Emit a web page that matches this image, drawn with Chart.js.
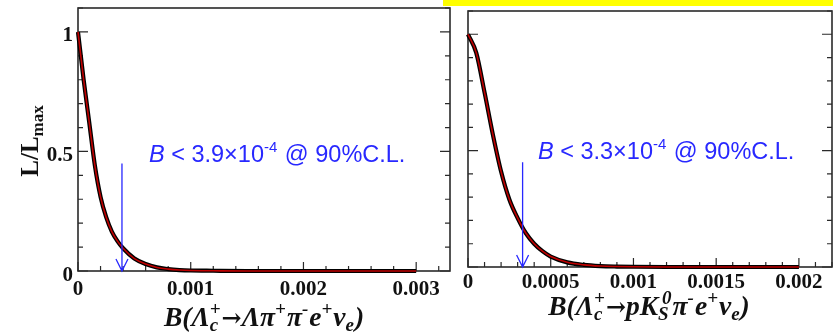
<!DOCTYPE html>
<html>
<head>
<meta charset="utf-8">
<script src="https://cdn.jsdelivr.net/npm/chart.js@4.4.1/dist/chart.umd.min.js"></script>
<style>
  html, body { margin: 0; padding: 0; background: #fff; }
  #wrap { position: relative; width: 833px; height: 333px; overflow: hidden; }
  canvas { position: absolute; top: 0; }
  #bar { position: absolute; left: 443px; top: 0; width: 390px; height: 6px; background: #ffff00; z-index: 5; }
</style>
</head>
<body>
<div id="wrap">
  <canvas id="left" width="460" height="333" style="left:0"></canvas>
  <canvas id="right" width="373" height="333" style="left:460px"></canvas>
  <div id="bar"></div>
</div>
<script>
// left panel: B(Lambda_c+ -> Lambda pi+ pi- e+ nu_e)
const leftX = [0, 0.00005, 0.0001, 0.00015, 0.0002, 0.00025, 0.0003, 0.00035, 0.0004, 0.0005, 0.0006, 0.0007, 0.0008, 0.0009, 0.001, 0.0012, 0.0015, 0.002, 0.0025, 0.003]
const leftY = [1.0, 0.8, 0.62, 0.44, 0.31, 0.225, 0.165, 0.125, 0.095, 0.052, 0.029, 0.015, 0.008, 0.004, 0.002, 0.001, 0, 0, 0, 0]
const leftXTicks = [0, 0.001, 0.002, 0.003]
const leftXLabels = ['0', '0.001', '0.002', '0.003']
const leftLimit = 0.00039

// right panel: B(Lambda_c+ -> p K0S pi- e+ nu_e)
const rightX = [0, 0.00005, 0.0001, 0.00015, 0.0002, 0.00025, 0.0003, 0.00035, 0.0004, 0.00045, 0.0005, 0.0006, 0.0007, 0.0008, 0.0009, 0.001, 0.0012, 0.0015, 0.002]
const rightY = [1.0, 0.92, 0.75, 0.57, 0.41, 0.29, 0.21, 0.145, 0.1, 0.068, 0.045, 0.02, 0.009, 0.004, 0.002, 0.001, 0, 0, 0]
const rightXTicks = [0, 0.0005, 0.001, 0.0015, 0.002]
const rightXLabels = ['0', '0.0005', '0.001', '0.0015', '0.002']
const rightLimit = 0.00033

const yTicks = [0, 0.5, 1]
const yLabels = ['0', '0.5', '1']

const serifB = 'bold 21px "Liberation Serif"'
const blue = '#2828ff'

function points(xs, ys) {
  return xs.map((x, i) => ({ x: x, y: ys[i] }))
}

// draws a list of text runs; stacked runs carry sup/sub
function drawRuns(ctx, runs, x, y, align) {
  const big = 'italic bold 27.5px "Liberation Serif"'
  const small = 'italic bold 19px "Liberation Serif"'
  const widths = runs.map((r) => {
    if (r.t !== undefined) {
      ctx.font = r.font || big
      return ctx.measureText(r.t).width
    }
    ctx.font = small
    return Math.max(ctx.measureText(r.sup || '').width + (r.supDx || 0), ctx.measureText(r.sub || '').width) + 1
  })
  const total = widths.reduce((a, b) => a + b, 0)
  let cx = align === 'center' ? x - total / 2 : x
  ctx.textAlign = 'left'
  ctx.textBaseline = 'alphabetic'
  runs.forEach((r, i) => {
    if (r.t !== undefined) {
      ctx.font = r.font || big
      ctx.fillText(r.t, cx, y)
    } else {
      ctx.font = small
      if (r.sup) ctx.fillText(r.sup, cx + (r.supDx || 0), y - 11)
      if (r.sub) ctx.fillText(r.sub, cx, y + 5)
    }
    cx += widths[i]
  })
}

function limitText(ctx, x, y, value) {
  ctx.fillStyle = blue
  ctx.textAlign = 'left'
  ctx.textBaseline = 'alphabetic'
  let cx = x
  ctx.font = 'italic 23.5px "Liberation Sans"'
  ctx.fillText('B', cx, y)
  cx += ctx.measureText('B').width
  ctx.font = '23.5px "Liberation Sans"'
  const a = ' < ' + value + '\u00d710'
  ctx.fillText(a, cx, y)
  cx += ctx.measureText(a).width
  ctx.font = '15px "Liberation Sans"'
  ctx.fillText('-4', cx, y - 10)
  cx += ctx.measureText('-4').width + 1
  ctx.font = '23.5px "Liberation Sans"'
  ctx.fillText(' @ 90%C.L.', cx, y)
}

function framePlugin(opt) {
  return {
    id: 'frame',
    beforeDatasetsDraw(chart) {
      const { ctx, chartArea: a, scales } = chart
      const xs = scales.x
      const ys = scales.y
      ctx.save()
      ctx.strokeStyle = '#2a2a2a'
      ctx.lineWidth = 1.6
      ctx.strokeRect(a.left, a.top, a.right - a.left, a.bottom - a.top)
      ctx.lineWidth = 1.2
      ctx.beginPath()
      for (let i = 0; i <= 11; i++) {
        const v = i / 10
        const py = ys.getPixelForValue(v)
        const len = i % 5 === 0 ? 10 : 5
        ctx.moveTo(a.left, py)
        ctx.lineTo(a.left + len, py)
        ctx.moveTo(a.right, py)
        ctx.lineTo(a.right - len, py)
      }
      for (let i = 0; i * opt.minor <= xs.max + 1e-12; i++) {
        const px = xs.getPixelForValue(i * opt.minor)
        const len = i % opt.per === 0 ? 9 : 5
        ctx.moveTo(px, a.bottom)
        ctx.lineTo(px, a.bottom - len)
      }
      ctx.stroke()
      ctx.restore()
    },
    afterDatasetsDraw(chart) {
      const { ctx, scales } = chart
      const px = scales.x.getPixelForValue(opt.limit)
      const top = scales.y.getPixelForValue(0.45)
      const bot = scales.y.getPixelForValue(0)
      ctx.save()
      ctx.strokeStyle = blue
      ctx.lineWidth = 1.3
      ctx.beginPath()
      ctx.moveTo(px, top)
      ctx.lineTo(px, bot)
      ctx.moveTo(px - 6, bot - 12)
      ctx.lineTo(px, bot)
      ctx.lineTo(px + 6, bot - 12)
      ctx.stroke()
      ctx.restore()
    },
    afterDraw(chart) {
      const { ctx, chartArea: a, scales } = chart
      ctx.save()
      ctx.fillStyle = '#111'
      ctx.font = serifB
      ctx.textAlign = 'center'
      ctx.textBaseline = 'alphabetic'
      opt.xTicks.forEach((v, i) => {
        ctx.fillText(opt.xLabels[i], scales.x.getPixelForValue(v), a.bottom + opt.labelDy)
      })
      if (opt.yAxis) {
        ctx.textAlign = 'right'
        yTicks.forEach((v, i) => {
          ctx.fillText(yLabels[i], a.left - 5, scales.y.getPixelForValue(v) + 9.5)
        })
        ctx.save()
        ctx.translate(38, 141)
        ctx.rotate(-Math.PI / 2)
        ctx.font = 'bold 25px "Liberation Serif"'
        const w1 = ctx.measureText('L/L').width
        ctx.font = 'bold 17px "Liberation Serif"'
        const w2 = ctx.measureText('max').width
        ctx.textAlign = 'left'
        ctx.font = 'bold 25px "Liberation Serif"'
        ctx.fillText('L/L', -(w1 + w2) / 2, 0)
        ctx.font = 'bold 17px "Liberation Serif"'
        ctx.fillText('max', -(w1 + w2) / 2 + w1, 5)
        ctx.restore()
      }
      drawRuns(ctx, opt.title, opt.titleX, opt.titleY, 'center')
      limitText(ctx, opt.textX, opt.textY, opt.textValue)
      ctx.restore()
    },
  }
}

function makeChart(id, xs, ys, xmax, pad, opt) {
  const data = points(xs, ys)
  return new Chart(document.getElementById(id), {
    type: 'scatter',
    data: {
      datasets: [
        // dataset 0 is painted last, so the thin red line sits on the black one
        { data: data, showLine: true, borderColor: '#c00000', borderWidth: 1.6, pointRadius: 0, cubicInterpolationMode: 'monotone', clip: 5 },
        { data: data, showLine: true, borderColor: '#000', borderWidth: 4.2, pointRadius: 0, cubicInterpolationMode: 'monotone', clip: 5 },
      ],
    },
    options: {
      responsive: false,
      animation: false,
      devicePixelRatio: 1,
      layout: { padding: pad },
      scales: {
        x: { type: 'linear', min: 0, max: xmax, display: false },
        y: { type: 'linear', min: 0, max: 1.1, display: false },
      },
      plugins: { legend: { display: false }, tooltip: { enabled: false } },
    },
    plugins: [framePlugin(opt)],
  })
}

const arrowFont = 'bold 24px "DejaVu Serif"'

makeChart('left', leftX, leftY, 0.0033, { left: 78, right: 10, top: 8, bottom: 62 }, {
  minor: 0.0002, per: 5, limit: leftLimit,
  xTicks: leftXTicks, xLabels: leftXLabels, labelDy: 24, yAxis: true,
  title: [
    { t: 'B(' }, { t: '\u039b' }, { sup: '+', sub: 'c' }, { t: '\u2192', font: arrowFont }, { t: '\u039b\u03c0' }, { sup: '+' },
    { t: '\u03c0' }, { sup: '-' }, { t: 'e' }, { sup: '+' }, { t: '\u03bd' }, { sub: 'e' }, { t: ')' },
  ],
  titleX: 264, titleY: 326,
  textX: 149, textY: 162, textValue: '3.9',
})

makeChart('right', rightX, rightY, 0.0022, { left: 8, right: 1, top: 11, bottom: 66 }, {
  minor: 0.0001, per: 5, limit: rightLimit,
  xTicks: rightXTicks, xLabels: rightXLabels, labelDy: 21, yAxis: false,
  title: [
    { t: 'B(' }, { t: '\u039b' }, { sup: '+', sub: 'c' }, { t: '\u2192', font: arrowFont }, { t: 'pK' }, { sup: '0', sub: 'S', supDx: 4 },
    { t: '\u03c0' }, { sup: '-' }, { t: 'e' }, { sup: '+' }, { t: '\u03bd' }, { sub: 'e' }, { t: ')' },
  ],
  titleX: 189, titleY: 315,
  textX: 78, textY: 159, textValue: '3.3',
})
</script>
</body>
</html>
